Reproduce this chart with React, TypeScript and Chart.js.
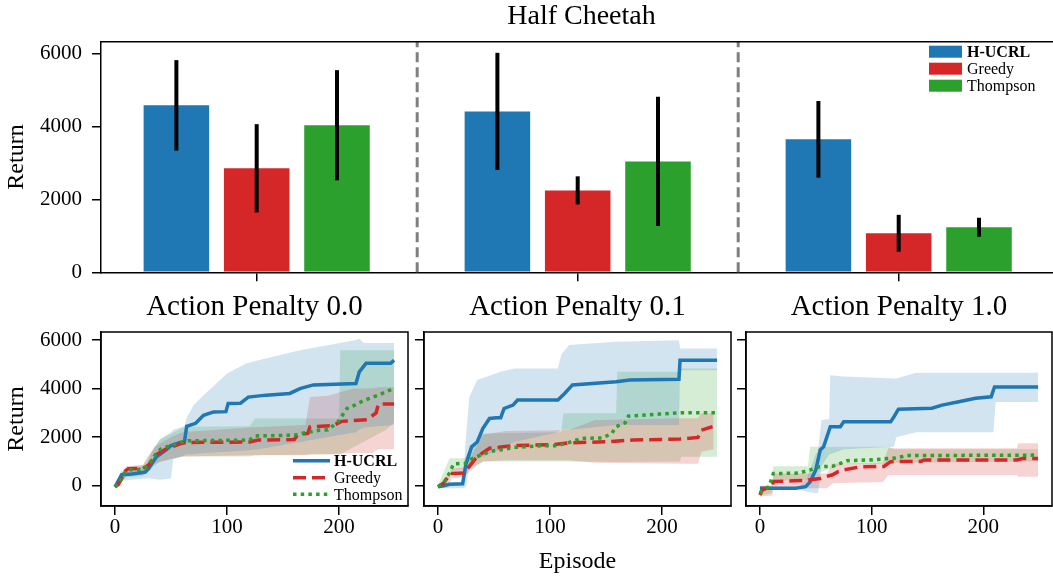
import React, { useEffect, useRef } from 'react';
import { Chart, registerables } from 'chart.js';

Chart.register(...registerables);

const SERIF = '"Liberation Serif", "Times New Roman", Times, serif';
Chart.defaults.font.family = SERIF;
Chart.defaults.color = '#000';

// ---------------- Top bar chart data ----------------
const groupLabels = ['Action Penalty 0.0', 'Action Penalty 0.1', 'Action Penalty 1.0'];
const groupIndex = [0, 1, 2];
const separatorsAt = [0.5, 1.5];
const seriesNames = ['H-UCRL', 'Greedy', 'Thompson'];
const hucrlMean = [4575, 4410, 3645];
const hucrlErr = [1240, 1605, 1050];
const greedyMean = [2850, 2245, 1070];
const greedyErr = [1210, 385, 505];
const thompsonMean = [4030, 3040, 1235];
const thompsonErr = [1510, 1770, 260];
const barTicksY = [0, 2000, 4000, 6000];

// ---------------- Bottom line charts data ----------------
const episodeTicks = [0, 100, 200];
const returnTicks = [0, 2000, 4000, 6000];

// Action penalty 0.0
const p0HucrlX = [0, 3, 6, 15, 27, 30, 37, 45, 50, 58, 62, 64, 72, 79, 88, 99, 101, 112, 119, 135, 156, 165, 177, 215, 218, 224, 246, 249];
const p0HucrlY = [-50, 200, 450, 480, 560, 700, 1190, 1450, 1650, 1780, 1800, 2450, 2570, 2900, 3040, 3050, 3390, 3400, 3650, 3730, 3800, 4000, 4150, 4210, 4690, 5040, 5040, 5170];
const p0GreedyX = [0, 3, 6, 9, 12, 25, 30, 37, 45, 52, 60, 65, 120, 128, 160, 163, 172, 174, 195, 202, 225, 233, 235, 249];
const p0GreedyY = [-50, 50, 300, 600, 700, 710, 850, 1280, 1500, 1620, 1750, 1780, 1800, 1880, 1900, 2100, 2150, 2420, 2480, 2650, 2720, 3000, 3360, 3360];
const p0ThompsonX = [0, 4, 8, 12, 25, 30, 37, 42, 50, 60, 65, 120, 125, 160, 166, 183, 190, 199, 207, 214, 220, 227, 235, 242, 249];
const p0ThompsonY = [-50, 100, 500, 650, 680, 850, 1350, 1550, 1650, 1800, 1850, 1880, 2050, 2080, 2150, 2290, 2300, 2630, 3180, 3320, 3460, 3600, 3730, 3870, 4010];

const p0HucrlBandX = [0, 5, 28, 32, 40, 50, 52, 62, 64, 70, 79, 100, 117, 128, 165, 215, 218, 222, 249];
const p0HucrlLo = [-100, 200, 300, 300, 250, 300, 1100, 1250, 1300, 1300, 1350, 1400, 1450, 1500, 1800, 2200, 2300, 2400, 2500];
const p0HucrlHi = [0, 600, 800, 1300, 1900, 2200, 2300, 2450, 2800, 3300, 3730, 4620, 5030, 5170, 5580, 6000, 6050, 5880, 5880];
const p0GreedyBandX = [0, 10, 25, 35, 50, 60, 120, 170, 174, 190, 213, 230, 235, 249];
const p0GreedyLo = [-100, 400, 450, 900, 1100, 1200, 1250, 1250, 1300, 1300, 1350, 1350, 1500, 1500];
const p0GreedyHi = [0, 800, 850, 1600, 2000, 2200, 2400, 2500, 3650, 3700, 4000, 4000, 4050, 4050];
const p0ThompsonBandX = [0, 10, 25, 30, 40, 62, 120, 125, 200, 201, 242, 249];
const p0ThompsonLo = [-100, 350, 400, 600, 1000, 1200, 1200, 1250, 1300, 1300, 2300, 2600];
const p0ThompsonHi = [0, 750, 850, 1200, 1900, 2430, 2450, 2770, 2770, 5580, 5580, 5580];

// Action penalty 0.1
const p1HucrlX = [0, 5, 10, 22, 25, 30, 35, 40, 46, 52, 56, 59, 67, 71, 107, 113, 120, 159, 171, 215, 216, 249];
const p1HucrlY = [-40, 0, 60, 80, 900, 1600, 1800, 2350, 2770, 2800, 2800, 3180, 3320, 3530, 3530, 3800, 4150, 4280, 4350, 4380, 5170, 5170];
const p1GreedyX = [0, 5, 11, 23, 28, 35, 46, 58, 67, 85, 103, 118, 150, 174, 216, 232, 235, 245];
const p1GreedyY = [-40, 100, 500, 520, 800, 1200, 1540, 1600, 1650, 1670, 1690, 1770, 1810, 1880, 1920, 1990, 2290, 2430];
const p1ThompsonX = [0, 5, 10, 14, 24, 30, 40, 50, 59, 68, 77, 95, 106, 115, 128, 147, 155, 159, 167, 170, 198, 216, 249];
const p1ThompsonY = [-40, 100, 500, 900, 920, 1100, 1300, 1440, 1500, 1580, 1600, 1650, 1650, 1750, 1950, 1970, 2150, 2430, 2590, 2870, 2950, 3000, 3000];

const p1HucrlBandX = [0, 22, 25, 28, 35, 56, 68, 107, 110, 117, 159, 215, 216, 249];
const p1HucrlLo = [-100, -100, -50, 800, 1100, 1500, 1800, 2200, 2300, 2300, 2500, 2500, 4750, 4750];
const p1HucrlHi = [0, 100, 2000, 3660, 4350, 4690, 4830, 4830, 5400, 5790, 5930, 5990, 5650, 5650];
const p1GreedyBandX = [0, 10, 12, 23, 28, 40, 60, 117, 140, 216, 232, 235, 246];
const p1GreedyLo = [-100, -50, 300, 350, 600, 1000, 1050, 1050, 950, 900, 900, 1400, 1500];
const p1GreedyHi = [0, 500, 700, 750, 1100, 2100, 2250, 2290, 2700, 2780, 2780, 2980, 2980];
const p1ThompsonBandX = [0, 10, 11, 24, 28, 40, 110, 112, 159, 160, 216, 217, 249];
const p1ThompsonLo = [-100, 300, 600, 650, 700, 1000, 1000, 1000, 980, 980, 1000, 1190, 1190];
const p1ThompsonHi = [0, 1100, 1130, 1130, 1500, 2150, 2200, 2980, 2980, 4690, 4690, 4830, 4830];

// Action penalty 1.0
const p2HucrlX = [0, 32, 41, 45, 50, 54, 57, 63, 72, 75, 117, 120, 124, 154, 163, 178, 193, 207, 210, 249];
const p2HucrlY = [-100, -100, -40, 160, 650, 1470, 1600, 2430, 2430, 2630, 2630, 2840, 3150, 3190, 3320, 3460, 3600, 3660, 4070, 4070];
const p2GreedyX = [0, 2, 6, 11, 12, 30, 43, 54, 65, 70, 75, 90, 111, 117, 144, 147, 230, 235, 249];
const p2GreedyY = [-380, -180, -100, -80, 170, 200, 230, 300, 450, 580, 650, 780, 790, 990, 1000, 1060, 1060, 1120, 1120];
const p2ThompsonX = [0, 3, 8, 12, 35, 45, 53, 65, 72, 78, 98, 116, 124, 130, 249];
const p2ThompsonY = [-300, -150, -50, 500, 520, 650, 780, 800, 920, 1030, 1060, 1120, 1150, 1240, 1260];

const p2HucrlBandX = [0, 35, 42, 50, 52, 55, 62, 63, 75, 120, 122, 140, 209, 211, 249];
const p2HucrlLo = [-150, -150, -250, -300, -300, 800, 1300, 1300, 1500, 1600, 2000, 2200, 2200, 3450, 3450];
const p2HucrlHi = [-50, -50, 300, 1300, 1400, 2700, 2750, 4550, 4500, 4420, 4420, 4650, 4650, 4650, 4650];
const p2GreedyBandX = [0, 11, 12, 60, 65, 110, 115, 230, 231, 249];
const p2GreedyLo = [-450, -400, -100, -100, 100, 150, 440, 440, 370, 370];
const p2GreedyHi = [0, 0, 500, 500, 900, 950, 1540, 1540, 1750, 1750];
const p2ThompsonBandX = [0, 11, 12, 43, 45, 75, 116, 120, 249];
const p2ThompsonLo = [-400, -300, 200, 250, 400, 900, 900, 950, 1000];
const p2ThompsonHi = [0, 0, 800, 800, 1600, 1600, 1600, 1500, 1500];

// ---------------- styling ----------------
const COLORS = ['#1f77b4', '#d62728', '#2ca02c'];
const FILLS = ['rgba(31,119,180,0.2)', 'rgba(214,39,40,0.2)', 'rgba(44,160,44,0.2)'];
const DASHES: number[][] = [[], [13, 6], [3.5, 4.2]];
const LINE_W = 3.5;

const panelData = [
  {
    lines: [[p0HucrlX, p0HucrlY], [p0GreedyX, p0GreedyY], [p0ThompsonX, p0ThompsonY]],
    bands: [[p0HucrlBandX, p0HucrlLo, p0HucrlHi], [p0GreedyBandX, p0GreedyLo, p0GreedyHi], [p0ThompsonBandX, p0ThompsonLo, p0ThompsonHi]],
  },
  {
    lines: [[p1HucrlX, p1HucrlY], [p1GreedyX, p1GreedyY], [p1ThompsonX, p1ThompsonY]],
    bands: [[p1HucrlBandX, p1HucrlLo, p1HucrlHi], [p1GreedyBandX, p1GreedyLo, p1GreedyHi], [p1ThompsonBandX, p1ThompsonLo, p1ThompsonHi]],
  },
  {
    lines: [[p2HucrlX, p2HucrlY], [p2GreedyX, p2GreedyY], [p2ThompsonX, p2ThompsonY]],
    bands: [[p2HucrlBandX, p2HucrlLo, p2HucrlHi], [p2GreedyBandX, p2GreedyLo, p2GreedyHi], [p2ThompsonBandX, p2ThompsonLo, p2ThompsonHi]],
  },
];

const panelLayout = [
  { left: 0, width: 412, axisWidth: 101, padRight: 4, yLabels: true, xTitle: false, legend: true },
  { left: 415, width: 320, axisWidth: 9, padRight: 4, yLabels: false, xTitle: true, legend: false },
  { left: 737, width: 316, axisWidth: 9, padRight: 1, yLabels: false, xTitle: false, legend: false },
];

const toPoints = (xs: number[], ys: number[]) => xs.map((x, i) => ({ x, y: ys[i] }));

const axisGrid = { display: true, drawOnChartArea: false, drawTicks: true, tickLength: 9, color: '#000', lineWidth: 1.5 };
const axisBorder = { display: true, color: '#000', width: 1.5 };

function BarPanel() {
  const ref = useRef<HTMLCanvasElement>(null);
  useEffect(() => {
    const canvas = ref.current as HTMLCanvasElement;
    const means = [hucrlMean, greedyMean, thompsonMean];
    const errs = [hucrlErr, greedyErr, thompsonErr];

    const decorations = {
      id: 'barDecor',
      beforeDatasetsDraw(chart: any) {
        const { ctx, chartArea: a, scales } = chart;
        ctx.save();
        ctx.strokeStyle = '#7f7f7f';
        ctx.lineWidth = 3;
        ctx.setLineDash([10, 5]);
        separatorsAt.forEach((v) => {
          const px = scales.x.getPixelForValue(v);
          ctx.beginPath();
          ctx.moveTo(px, a.bottom);
          ctx.lineTo(px, a.top);
          ctx.stroke();
        });
        ctx.restore();
      },
      afterDatasetsDraw(chart: any) {
        const { ctx, scales } = chart;
        ctx.save();
        ctx.strokeStyle = '#000';
        ctx.lineWidth = 4;
        chart.data.datasets.forEach((_: any, s: number) => {
          const meta = chart.getDatasetMeta(s);
          meta.data.forEach((bar: any, i: number) => {
            const m = means[s][i];
            const e = errs[s][i];
            ctx.beginPath();
            ctx.moveTo(bar.x, scales.y.getPixelForValue(m - e));
            ctx.lineTo(bar.x, scales.y.getPixelForValue(m + e));
            ctx.stroke();
          });
        });
        ctx.restore();
      },
      afterDraw(chart: any) {
        const { ctx, chartArea: a } = chart;
        ctx.save();
        ctx.strokeStyle = '#000';
        ctx.lineWidth = 1.5;
        ctx.beginPath();
        ctx.moveTo(a.left, a.top);
        ctx.lineTo(a.right, a.top);
        ctx.stroke();
        // legend
        seriesNames.forEach((name, i) => {
          const yc = a.top + 10 + i * 17;
          ctx.fillStyle = COLORS[i];
          ctx.fillRect(929, yc - 6, 33, 12);
          ctx.fillStyle = '#000';
          ctx.font = (i === 0 ? 'bold ' : '') + '16px ' + SERIF;
          ctx.textAlign = 'left';
          ctx.textBaseline = 'middle';
          ctx.fillText(name, 967, yc + 1);
        });
        ctx.restore();
      },
    };

    const chart = new Chart(canvas, {
      type: 'bar',
      data: {
        labels: groupLabels,
        datasets: seriesNames.map((name, s) => ({
          label: name,
          data: groupIndex.map((x, i) => ({ x, y: means[s][i] })),
          backgroundColor: COLORS[s],
          borderWidth: 0,
          categoryPercentage: 0.7505,
          barPercentage: 0.816,
        })),
      } as any,
      options: {
        responsive: false,
        animation: false,
        devicePixelRatio: 1,
        events: [],
        layout: { padding: 0 },
        plugins: {
          legend: { display: false },
          tooltip: { enabled: false },
          title: {
            display: true,
            text: 'Half Cheetah',
            color: '#000',
            font: { family: SERIF, size: 28, weight: 'normal' },
            padding: { top: 0, bottom: 8.1 },
            fullSize: false,
          },
        },
        scales: {
          x: {
            type: 'linear',
            min: -0.485,
            max: 2.5087,
            offset: false,
            grid: { ...axisGrid, offset: false },
            border: axisBorder,
            ticks: { display: false },
            afterBuildTicks: (s: any) => { s.ticks = groupIndex.map((v) => ({ value: v })); },
            afterFit: (s: any) => { s.height = 27.7; },
          },
          y: {
            type: 'linear',
            min: 0,
            max: 6320,
            grid: axisGrid,
            border: axisBorder,
            ticks: { color: '#000', font: { family: SERIF, size: 21 }, padding: 10, callback: (v: any) => String(v) },
            afterBuildTicks: (s: any) => { s.ticks = barTicksY.map((v) => ({ value: v })); },
            title: { display: true, text: 'Return', color: '#000', font: { family: SERIF, size: 24 }, padding: { top: 2, bottom: 0 } },
            afterFit: (s: any) => { s.width = 101; },
          },
        },
      } as any,
      plugins: [decorations],
    });
    return () => chart.destroy();
  }, []);
  return (
    <canvas
      ref={ref}
      width={1062}
      height={300}
      style={{ position: 'absolute', left: 0, top: 0, width: 1062, height: 300 }}
    />
  );
}

function LinePanel({ idx }: { idx: number }) {
  const ref = useRef<HTMLCanvasElement>(null);
  const lay = panelLayout[idx];
  useEffect(() => {
    const canvas = ref.current as HTMLCanvasElement;
    const pd = panelData[idx];
    const datasets: any[] = [];
    pd.bands.forEach(([bx, lo, hi], s) => {
      datasets.push({
        data: toPoints(bx, lo), borderWidth: 0, borderColor: 'transparent', pointRadius: 0, fill: false, tension: 0, order: 10,
      });
      datasets.push({
        data: toPoints(bx, hi), borderWidth: 0, borderColor: 'transparent', pointRadius: 0, fill: '-1',
        backgroundColor: FILLS[s], tension: 0, order: 10,
      });
    });
    pd.lines.forEach(([lx, ly], s) => {
      datasets.push({
        label: seriesNames[s],
        data: toPoints(lx, ly),
        borderColor: COLORS[s],
        borderWidth: LINE_W,
        borderDash: DASHES[s],
        borderCapStyle: 'butt',
        pointRadius: 0,
        fill: false,
        tension: 0,
        order: 3 - s,
      });
    });

    const decor = {
      id: 'lineDecor',
      afterDraw(chart: any) {
        const { ctx, chartArea: a } = chart;
        ctx.save();
        ctx.strokeStyle = '#000';
        ctx.lineWidth = 1.5;
        ctx.strokeRect(a.left, a.top, a.right - a.left, a.bottom - a.top);
        if (lay.legend) {
          const offs = [45.3, 28.3, 11.7];
          seriesNames.forEach((name, i) => {
            const y = a.bottom - offs[i];
            ctx.strokeStyle = COLORS[i];
            ctx.lineWidth = LINE_W;
            ctx.setLineDash(DASHES[i]);
            ctx.beginPath();
            ctx.moveTo(a.right - 115, y);
            ctx.lineTo(a.right - 78, y);
            ctx.stroke();
            ctx.setLineDash([]);
            ctx.fillStyle = '#000';
            ctx.font = (i === 0 ? 'bold ' : '') + '16px ' + SERIF;
            ctx.textAlign = 'left';
            ctx.textBaseline = 'middle';
            ctx.fillText(name, a.right - 74, y + 1);
          });
        }
        ctx.restore();
      },
    };

    const chart = new Chart(canvas, {
      type: 'line',
      data: { datasets },
      options: {
        responsive: false,
        animation: false,
        devicePixelRatio: 1,
        events: [],
        layout: { padding: { left: 0, right: lay.padRight, top: 0, bottom: 0 } },
        plugins: {
          legend: { display: false },
          tooltip: { enabled: false },
          filler: { drawTime: 'beforeDatasetsDraw', propagate: false },
          title: {
            display: true,
            text: groupLabels[idx],
            color: '#000',
            font: { family: SERIF, size: 29, weight: 'normal' },
            padding: { top: 9.6, bottom: 7.6 },
            fullSize: false,
          },
        },
        scales: {
          x: {
            type: 'linear',
            min: -12.45,
            max: 261.45,
            grid: axisGrid,
            border: axisBorder,
            ticks: { color: '#000', font: { family: SERIF, size: 21 }, padding: 0, maxRotation: 0, autoSkip: false, callback: (v: any) => String(v) },
            afterBuildTicks: (s: any) => { s.ticks = episodeTicks.map((v) => ({ value: v })); },
            title: { display: lay.xTitle, text: 'Episode', color: '#000', font: { family: SERIF, size: 24 }, padding: { top: 0, bottom: 2.6 } },
            afterFit: (s: any) => { s.height = 73; },
          },
          y: {
            type: 'linear',
            min: -836,
            max: 6330,
            grid: axisGrid,
            border: axisBorder,
            ticks: { display: lay.yLabels, color: '#000', font: { family: SERIF, size: 21 }, padding: 10, callback: (v: any) => String(v) },
            afterBuildTicks: (s: any) => { s.ticks = returnTicks.map((v) => ({ value: v })); },
            title: { display: lay.yLabels, text: 'Return', color: '#000', font: { family: SERIF, size: 24 }, padding: { top: 2, bottom: 0 } },
            afterFit: (s: any) => { s.width = lay.axisWidth; },
          },
        },
      } as any,
      plugins: [decor],
    });
    return () => chart.destroy();
  }, [idx]);
  return (
    <canvas
      ref={ref}
      width={lay.width}
      height={299}
      style={{ position: 'absolute', left: lay.left, top: 280, width: lay.width, height: 299 }}
    />
  );
}

export default function App() {
  return (
    <div style={{ position: 'absolute', left: 0, top: 0, width: 1053, height: 579, overflow: 'hidden', background: '#fff' }}>
      <BarPanel />
      {panelLayout.map((_, i) => (
        <LinePanel key={i} idx={i} />
      ))}
    </div>
  );
}
